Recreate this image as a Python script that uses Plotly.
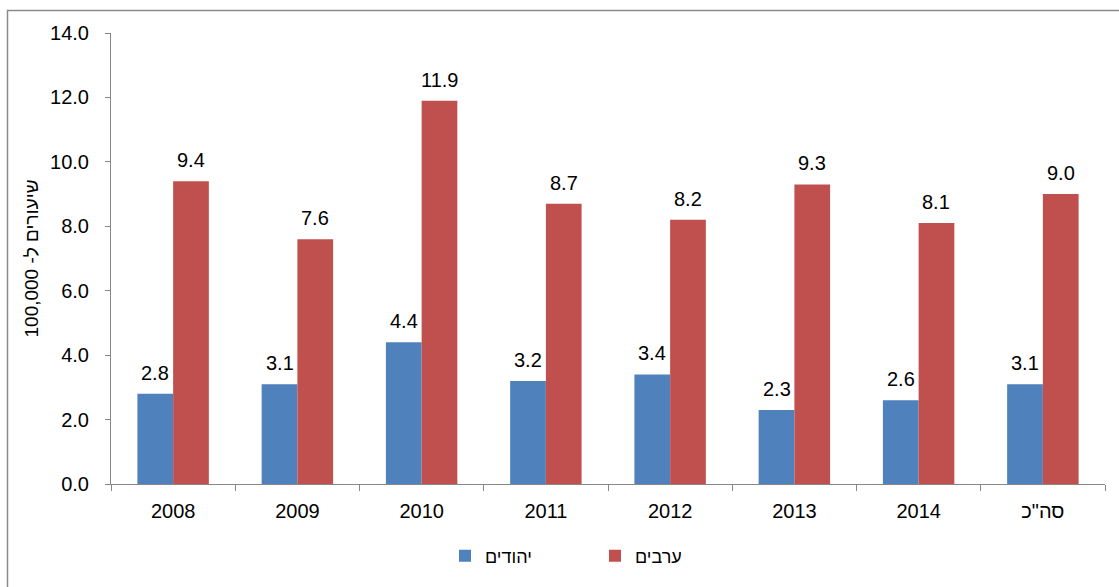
import plotly.graph_objects as go

categories = ["2008", "2009", "2010", "2011", "2012", "2013", "2014", 'סה"כ']
jews = [2.8, 3.1, 4.4, 3.2, 3.4, 2.3, 2.6, 3.1]
arabs = [9.4, 7.6, 11.9, 8.7, 8.2, 9.3, 8.1, 9.0]
y_ticks = [0, 2, 4, 6, 8, 10, 12, 14]
series_names = ["יהודים", "ערבים"]
y_title = "שיעורים ל- 100,000"

W, H = 1119, 587
ML, MR, MT, MB = 111, 14, 33, 103
PW, PH = W - ML - MR, H - MT - MB

BLUE = "#4F81BD"
RED = "#C0504D"
FONT = "Liberation Sans, Arial, sans-serif"
FS = 20

fig = go.Figure()
fig.add_trace(go.Bar(x=categories, y=jews, name=series_names[0], marker_color=BLUE, marker_line_width=0))
fig.add_trace(go.Bar(x=categories, y=arabs, name=series_names[1], marker_color=RED, marker_line_width=0))

bar_px = PW / len(categories) * (1 - 0.425) / 2
annotations = []
for vals, sh in ((jews, -bar_px / 2), (arabs, bar_px / 2)):
    for i, v in enumerate(vals):
        annotations.append(dict(x=i, y=v, xref="x", yref="y", text=f"{v:.1f}", showarrow=False,
                                xshift=sh, yanchor="bottom", yshift=8,
                                font=dict(family=FONT, size=FS, color="#000")))

def px_x(p):
    return (p - ML) / PW

def px_y(p):
    return (H - MB - p) / PH

fig.update_layout(
    width=W, height=H,
    margin=dict(l=ML, r=MR, t=MT, b=MB, pad=0, autoexpand=False),
    paper_bgcolor="white", plot_bgcolor="white",
    barmode="group", bargap=0.425, bargroupgap=0,
    font=dict(family=FONT, size=FS, color="#000"),
    annotations=annotations,
    showlegend=True,
    legend=dict(orientation="h", x=px_x(445), xanchor="left", y=px_y(556), yanchor="middle",
                font=dict(family=FONT, size=18, color="#000"), entrywidth=105,
                traceorder="normal", bgcolor="rgba(0,0,0,0)"),
    shapes=[dict(type="rect", xref="paper", yref="paper",
                 x0=px_x(7.5), x1=px_x(1135), y0=px_y(600), y1=px_y(10.5),
                 line=dict(color="#8a8a8a", width=1.5), fillcolor="rgba(0,0,0,0)", layer="below")],
    xaxis=dict(type="category", range=[-0.5, len(categories) - 0.5], showgrid=False,
               showline=True, linecolor="#868686", linewidth=1,
               ticks="outside", ticklen=6, tickcolor="#868686", tickson="boundaries",
               ticklabelstandoff=9, tickangle=0, tickfont=dict(size=FS, color="#000")),
    yaxis=dict(range=[0, 14], tickvals=y_ticks, tickformat=".1f", showgrid=False, zeroline=False,
               showline=True, linecolor="#868686", linewidth=1, ticks="outside", ticklen=5,
               tickcolor="#868686", ticklabelstandoff=12, tickfont=dict(size=FS, color="#000"),
               title=dict(text=y_title, standoff=6, font=dict(size=FS - 1, color="#000"))),
)

fig.write_html("out.html", config={"displayModeBar": False},
               post_script="document.body.style.margin='0';")
